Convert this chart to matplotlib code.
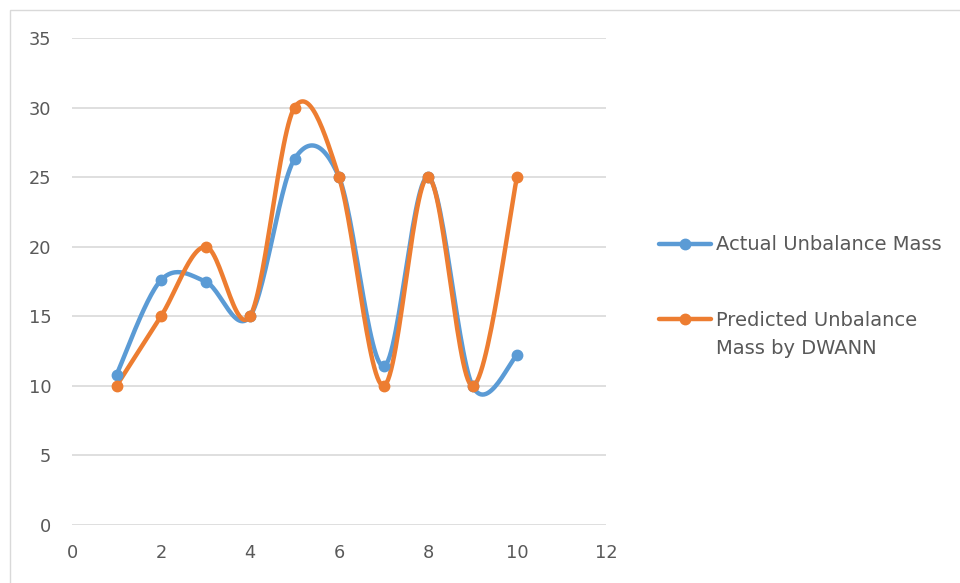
import numpy as np
import matplotlib
matplotlib.use('Agg')
import matplotlib.pyplot as plt
from matplotlib.patches import Rectangle
from matplotlib.lines import Line2D

# sample index and the two mass series
samples = [1, 2, 3, 4, 5, 6, 7, 8, 9, 10]
actual_mass = [10.8, 17.6, 17.5, 15.0, 26.3, 25.0, 11.4, 25.0, 10.0, 12.2]
predicted_mass = [10, 15, 20, 15, 30, 25, 10, 25, 10, 25]
labels = ['Actual Unbalance Mass', 'Predicted Unbalance\nMass by DWANN']

BLUE = '#5B9BD5'
ORANGE = '#ED7D31'
GRID = '#D9D9D9'
TEXT = '#595959'
W, H = 960, 583


def smooth(x, y, n=30):
    # cubic bezier through every point, control points a la Catmull-Rom
    x = np.asarray(x, float)
    y = np.asarray(y, float)
    px = np.concatenate(([x[0]], x, [x[-1]]))
    py = np.concatenate(([y[0]], y, [y[-1]]))
    t = np.linspace(0, 1, n)[:, None]
    xs, ys = [], []
    for i in range(1, len(px) - 2):
        p0 = np.array([px[i], py[i]])
        p3 = np.array([px[i + 1], py[i + 1]])
        c1 = p0 + (np.array([px[i + 1], py[i + 1]]) - np.array([px[i - 1], py[i - 1]])) / 6
        c2 = p3 - (np.array([px[i + 2], py[i + 2]]) - np.array([px[i], py[i]])) / 6
        b = ((1 - t) ** 3) * p0 + 3 * ((1 - t) ** 2) * t * c1 + 3 * (1 - t) * t ** 2 * c2 + t ** 3 * p3
        xs.append(b[:, 0])
        ys.append(b[:, 1])
    return np.concatenate(xs), np.concatenate(ys)


def fx(px):
    return px / W


def fy(py):
    return 1 - py / H


fig = plt.figure(figsize=(9.6, 5.83), dpi=100)
fig.patches.append(Rectangle((fx(10), -0.1), 1.2, fy(10) + 0.1,
                             transform=fig.transFigure, fill=False,
                             edgecolor=GRID, linewidth=1.0))
ax = fig.add_axes([fx(72), fy(525), (606 - 72) / W, (525 - 38) / H])

for ys, col in [(actual_mass, BLUE), (predicted_mass, ORANGE)]:
    sx, sy = smooth(samples, ys)
    ax.plot(sx, sy, color=col, linewidth=3.2, solid_capstyle='round', zorder=3)
    ax.plot(samples, ys, 'o', color=col, markersize=7.5, zorder=4)

ax.set_xlim(0, 12)
ax.set_ylim(0, 35)
ax.set_xticks(np.arange(0, 13, 2))
ax.set_yticks(np.arange(0, 36, 5))
ax.grid(axis='y', color=GRID, linewidth=1.2)
ax.set_axisbelow(True)
for s in ax.spines.values():
    s.set_visible(False)
ax.tick_params(length=0, colors=TEXT, labelsize=12.8)
ax.tick_params(axis='y', pad=15)
ax.tick_params(axis='x', pad=14)

# legend on the right, handle lined up with the first text line
for (hy, ty), col, lab in [((244, 244), BLUE, labels[0]), ((319, 334), ORANGE, labels[1])]:
    fig.add_artist(Line2D([fx(659), fx(711)], [fy(hy), fy(hy)], transform=fig.transFigure,
                          color=col, linewidth=3.2, solid_capstyle='round'))
    fig.add_artist(Line2D([fx(685)], [fy(hy)], transform=fig.transFigure,
                          color=col, marker='o', markersize=7.5))
    fig.text(fx(716), fy(ty), lab, color=TEXT, fontsize=14, va='center', ha='left',
             linespacing=1.6)

fig.savefig('out.png', dpi=100)
